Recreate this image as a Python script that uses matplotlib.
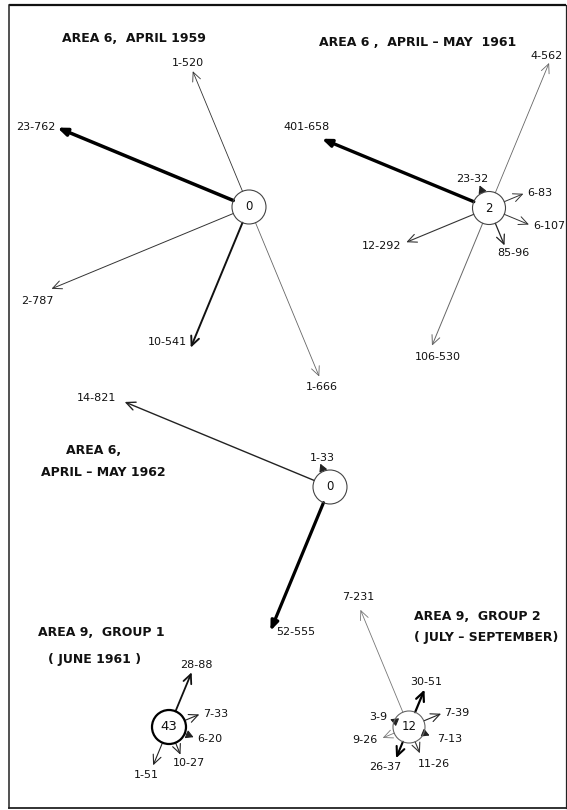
import numpy as np
import matplotlib
matplotlib.use("Agg")
import matplotlib.pyplot as plt
from matplotlib.patches import FancyArrowPatch, Circle

# ---------------- data ----------------
# compass sector of movement, number of animals, distance moved
g1_title = ["AREA 6,  APRIL 1959"]
g1_center = 0
g1_n = [1, 23, 2, 10, 1]
g1_dist = [520, 762, 787, 541, 666]
g1_dir = ["NNW", "WNW", "WSW", "SSW", "SSE"]

g2_title = ["AREA 6 ,  APRIL – MAY  1961"]
g2_center = 2
g2_n = [4, 401, 23, 6, 6, 85, 12, 106]
g2_dist = [562, 658, 32, 83, 107, 96, 292, 530]
g2_dir = ["NNE", "WNW", "NNW", "ENE", "ESE", "SSE", "WSW", "SSW"]

g3_title = ["AREA 6,", "APRIL – MAY 1962"]
g3_center = 0
g3_n = [14, 1, 52]
g3_dist = [821, 33, 555]
g3_dir = ["WNW", "NNW", "SSW"]

g4_title = ["AREA 9,  GROUP 1", "( JUNE 1961 )"]
g4_center = 43
g4_n = [28, 7, 6, 10, 1]
g4_dist = [88, 33, 20, 27, 51]
g4_dir = ["NNE", "ENE", "ESE", "SSE", "SSW"]

g5_title = ["AREA 9,  GROUP 2", "( JULY – SEPTEMBER)"]
g5_center = 12
g5_n = [7, 30, 7, 7, 11, 26, 9, 3]
g5_dist = [231, 51, 39, 13, 26, 37, 26, 9]
g5_dir = ["NNW", "NNE", "ENE", "ESE", "SSE", "SSW", "WSW", "WNW"]

# ---------------- layout / style ----------------
COMPASS = {"ENE": 22.5, "NNE": 67.5, "NNW": 112.5, "WNW": 157.5,
           "WSW": 202.5, "SSW": 247.5, "SSE": 292.5, "ESE": 337.5}
K6, K9 = 0.25, 0.48   # px per distance unit (area 6 / area 9 drawings)

fig = plt.figure(figsize=(5.67, 8.10), dpi=100)
ax = fig.add_axes([0, 0, 1, 1])
ax.set_xlim(0, 567)
ax.set_ylim(810, 0)
ax.axis("off")

# frame
ax.plot([9, 566], [5, 5], color="#111", lw=1.6, solid_capstyle="butt")
ax.plot([9, 9], [5, 808], color="#222", lw=1.1)
ax.plot([9, 566], [808, 808], color="#222", lw=1.3)
ax.plot([566, 566], [5, 808], color="#222", lw=0.9)

STY = {
    "open": "->, head_length=0.65, head_width=0.3",
    "fill": "-|>, head_length=0.55, head_width=0.22",
    "tiny": "-|>, head_length=0.45, head_width=0.25",
}
LBL_FS = 8


def draw_group(center, r, k, count, ns, dists, dirs, styles, offs,
               circ_lw=0.8, circ_col="#444", num_fs=8.5):
    cx, cy = center
    ax.add_patch(Circle((cx, cy), r, fill=False, lw=circ_lw, ec=circ_col, zorder=3))
    ax.text(cx, cy, str(count), ha="center", va="center", fontsize=num_fs, color="#111")
    for n, d, dr, st, of in zip(ns, dists, dirs, styles, offs):
        a = np.deg2rad(COMPASS[dr])
        ux, uy = np.cos(a), -np.sin(a)
        tr = r + k * d
        p0 = (cx + ux * r, cy + uy * r)
        p1 = (cx + ux * tr, cy + uy * tr)
        lw, kind, col = st
        ax.add_patch(FancyArrowPatch(p0, p1, arrowstyle=STY[kind], mutation_scale=10,
                                     lw=lw, color=col, shrinkA=0, shrinkB=0, zorder=2))
        dx, dy, ha = of
        ax.text(p1[0] + dx, p1[1] + dy, f"{n}-{d}", ha=ha, va="center",
                fontsize=LBL_FS, color="#111")


def titles(lines, xs, ys, ha="center"):
    for t, x, y in zip(lines, xs, ys):
        ax.text(x, y, t, ha=ha, va="center", fontsize=9, fontweight="bold", color="#111")


# group 1
draw_group((249, 207), 17, K6, g1_center, g1_n, g1_dist, g1_dir,
           [(0.6, "open", "#333"), (2.5, "fill", "#000"), (0.7, "open", "#333"),
            (1.4, "open", "#111"), (0.6, "open", "#666")],
           [(-5, -8, "center"), (-2, -1, "right"), (-14, 12, "center"),
            (-4, -6, "right"), (3, 10, "center")])
titles(g1_title, [134], [38])

# group 2
draw_group((489, 208), 16.5, K6, g2_center, g2_n, g2_dist, g2_dir,
           [(0.6, "open", "#666"), (2.4, "fill", "#000"), (0.8, "tiny", "#222"),
            (0.7, "open", "#333"), (0.7, "open", "#333"), (0.9, "open", "#222"),
            (0.8, "open", "#333"), (0.7, "open", "#666")],
           [(-3, -7, "center"), (-15, -12, "center"), (-7, -6, "center"),
            (4, -1, "left"), (4, 1, "left"), (9, 8, "center"),
            (-5, 4, "right"), (6, 11, "center")])
titles(g2_title, [418], [42])

# group 3
draw_group((330, 487), 17, K6, g3_center, g3_n, g3_dist, g3_dir,
           [(1.0, "open", "#222"), (0.8, "tiny", "#222"), (2.3, "fill", "#000")],
           [(-8, -4, "right"), (2, -6, "center"), (6, 1, "left")])
titles(g3_title, [94, 103], [450, 472])

# group 4
draw_group((169, 727), 17, K9, g4_center, g4_n, g4_dist, g4_dir,
           [(1.3, "open", "#111"), (0.8, "open", "#222"), (0.8, "tiny", "#222"),
            (0.8, "open", "#222"), (0.8, "open", "#222")],
           [(5, -7, "center"), (4, 0, "left"), (4, 2, "left"),
            (8, 8, "center"), (-7, 10, "center")],
           circ_lw=1.6, circ_col="#000", num_fs=9.5)
titles(g4_title, [101, 95], [632, 660])

# group 5
draw_group((409, 727), 16, K9, g5_center, g5_n, g5_dist, g5_dir,
           [(0.6, "open", "#777"), (1.6, "open", "#000"), (0.8, "open", "#222"),
            (0.8, "tiny", "#222"), (0.8, "open", "#333"), (1.5, "open", "#000"),
            (0.6, "open", "#777"), (0.8, "tiny", "#222")],
           [(-2, -13, "center"), (2, -8, "center"), (3, -1, "left"),
            (8, 3, "left"), (14, 11, "center"), (-11, 9, "center"),
            (-5, 2, "right"), (-3, -2, "right")],
           circ_col="#666")
titles(g5_title, [414, 414], [616, 637], ha="left")

fig.savefig("out.png", dpi=100)
